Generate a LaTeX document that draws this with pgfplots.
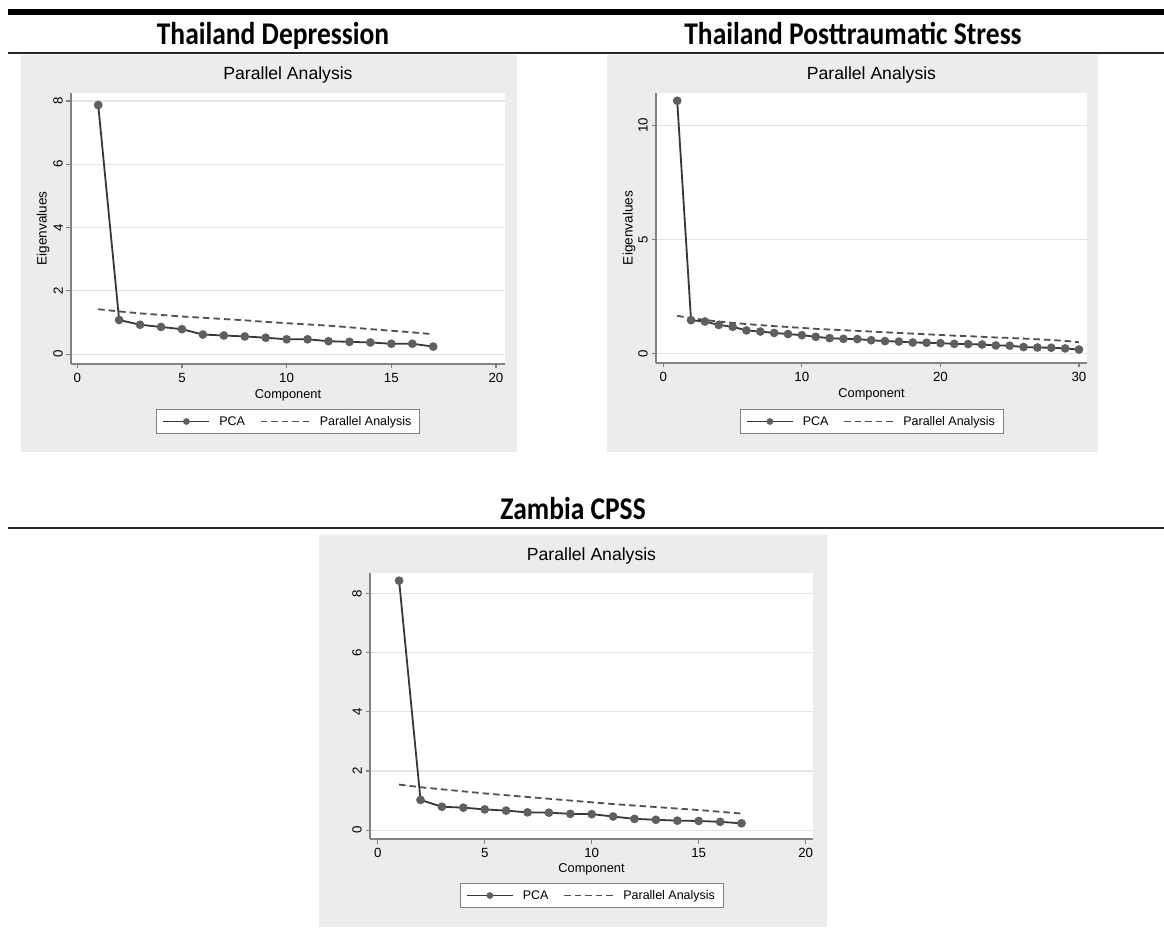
\documentclass[border=0pt]{standalone}
\usepackage{fontspec}
\setmainfont{Liberation Sans}
\newfontfamily\headfont{Carlito}
\usepackage{graphicx}
\usepackage{pgfplots}
\pgfplotsset{compat=1.18}
\usepackage{pgfplotstable}

\definecolor{panelbg}{RGB}{236,236,236}
\definecolor{axgray}{RGB}{130,130,130}
\definecolor{gridgray}{RGB}{228,228,228}
\definecolor{pcaline}{RGB}{55,55,55}
\definecolor{pcamark}{RGB}{95,95,95}
\definecolor{paline}{RGB}{80,80,80}

\pgfplotstableread{
x y
1 7.87
2 1.08
3 0.93
4 0.86
5 0.79
6 0.62
7 0.59
8 0.56
9 0.52
10 0.47
11 0.47
12 0.41
13 0.39
14 0.37
15 0.33
16 0.33
17 0.24
}\depPCA
\pgfplotstableread{
x y
1 1.42
2 1.35
3 1.29
4 1.24
5 1.19
6 1.15
7 1.11
8 1.07
9 1.02
10 0.98
11 0.94
12 0.90
13 0.85
14 0.79
15 0.74
16 0.69
17 0.63
}\depPA
\pgfplotstableread{
x y
1 11.09
2 1.46
3 1.40
4 1.25
5 1.17
6 1.01
7 0.96
8 0.90
9 0.85
10 0.80
11 0.73
12 0.67
13 0.64
14 0.63
15 0.58
16 0.54
17 0.52
18 0.48
19 0.47
20 0.45
21 0.42
22 0.41
23 0.39
24 0.35
25 0.34
26 0.28
27 0.26
28 0.25
29 0.22
30 0.17
}\ptsdPCA
\pgfplotstableread{
x y
1 1.65
2 1.55
3 1.47
4 1.40
5 1.34
6 1.29
7 1.24
8 1.20
9 1.16
10 1.12
11 1.08
12 1.05
13 1.02
14 0.99
15 0.96
16 0.93
17 0.90
18 0.87
19 0.84
20 0.81
21 0.78
22 0.76
23 0.73
24 0.70
25 0.68
26 0.65
27 0.62
28 0.59
29 0.55
30 0.49
}\ptsdPA
\pgfplotstableread{
x y
1 8.43
2 1.02
3 0.79
4 0.76
5 0.70
6 0.66
7 0.60
8 0.59
9 0.55
10 0.54
11 0.46
12 0.38
13 0.35
14 0.32
15 0.31
16 0.28
17 0.23
}\zamPCA
\pgfplotstableread{
x y
1 1.54
2 1.45
3 1.38
4 1.31
5 1.24
6 1.18
7 1.12
8 1.06
9 1.00
10 0.94
11 0.88
12 0.83
13 0.78
14 0.73
15 0.68
16 0.62
17 0.56
}\zamPA

\pgfplotsset{
  stata/.style={
    scale only axis,
    axis x line*=bottom, axis y line*=left,
    axis line style={draw=axgray, line width=1.2pt, -},
    axis background/.style={fill=white},
    tick align=outside, tick pos=left,
    major tick length=4.5pt,
    every tick/.style={draw=axgray, line width=1.2pt},
    ymajorgrids, grid style={draw=gridgray, line width=1.2pt},
    /pgf/number format/assume math mode=true,
    ticklabel style={font=\fontsize{13.3}{13.3}\selectfont},
    yticklabel style={rotate=90, anchor=south, inner sep=3.5pt},
    xticklabel style={inner sep=5pt},
    xlabel={Component},
    xlabel style={font=\fontsize{12.8}{12.8}\selectfont, anchor=base, inner sep=0pt},
    ylabel style={font=\fontsize{13.6}{13.6}\selectfont, rotate=0, anchor=base, inner sep=0pt},
    title={Parallel Analysis},
    title style={font=\fontsize{17.6}{17.6}\selectfont, anchor=base, inner sep=0pt},
    legend columns=2,
    legend style={draw=axgray, line width=1pt, fill=white, anchor=center,
      font=\fontsize{12.5}{12.5}\selectfont, inner xsep=6pt, inner ysep=4.5pt,
      /tikz/every odd column/.append style={column sep=7pt},
      /tikz/every even column/.append style={column sep=13pt}},
    clip=false,
  },
  pcastyle/.style={color=pcaline, line width=1.8pt, mark=*, mark size=3.4pt,
    mark options={fill=pcamark, draw=pcamark, solid},
    legend image code/.code={\draw[mark repeat=2, mark phase=2, ##1, mark size=2.4pt]
      plot coordinates {(0pt,0pt) (23pt,0pt) (46pt,0pt)};}},
  pastyle/.style={color=paline, line width=1.8pt, dash pattern=on 6.5pt off 4pt, mark=none,
    legend image code/.code={\draw[##1] (0pt,0pt) -- (49pt,0pt);}},
}

\begin{document}
\begin{tikzpicture}[x=1pt,y=1pt]
\useasboundingbox (0,0) rectangle (1164,929);
% header rules
\draw[line width=5.5pt, black] (8,917) -- (1164,917);
\draw[line width=1.8pt, black!85] (8,876.3) -- (1164,876.3);
\draw[line width=2pt, black!85] (8,400.7) -- (1164,400.7);
% headers
\node[anchor=base, inner sep=0pt] at (273,884) {\headfont\bfseries\fontsize{27.5}{27.5}\selectfont\scalebox{1}[1.15]{Thailand Depression}};
\node[anchor=base, inner sep=0pt] at (853,884) {\headfont\bfseries\fontsize{27.5}{27.5}\selectfont\scalebox{1}[1.15]{Thailand Posttraumatic Stress}};
\node[anchor=base, inner sep=0pt] at (573,409.7) {\headfont\bfseries\fontsize{27.5}{27.5}\selectfont\scalebox{1}[1.15]{Zambia CPSS}};
% panel backgrounds
\fill[panelbg] (21,477) rectangle (517,874);
\fill[panelbg] (607,477) rectangle (1098,874);
\fill[panelbg] (319,2) rectangle (827,394);

% Panel 1
\begin{axis}[stata, at={(71pt,565pt)}, anchor=south west, width=434pt, height=271pt,
  xmin=-0.3, xmax=20.43, ymin=-0.31, ymax=8.25,
  xtick={0,5,10,15,20}, ytick={0,2,4,6,8},
  ylabel={Eigenvalues},
  xlabel style={at={(axis description cs:0.5,-0.1255)}},
  ylabel style={at={(axis description cs:-0.056,0.5)}},
  title style={at={(axis description cs:0.5,1.0258)}},
  legend style={at={(axis description cs:0.5,-0.2122)}},
]
\addplot[pcastyle] table[x=x,y=y] {\depPCA};
\addlegendentry{PCA}
\addplot[pastyle] table[x=x,y=y] {\depPA};
\addlegendentry{Parallel Analysis}
\end{axis}

% Panel 2
\begin{axis}[stata, at={(656pt,566pt)}, anchor=south west, width=431pt, height=270pt,
  xmin=-0.53, xmax=30.58, ymin=-0.42, ymax=11.43,
  xtick={0,10,20,30}, ytick={0,5,10},
  ylabel={Eigenvalues},
  xlabel style={at={(axis description cs:0.5,-0.126)}},
  ylabel style={at={(axis description cs:-0.054,0.5)}},
  title style={at={(axis description cs:0.5,1.026)}},
  legend style={at={(axis description cs:0.5,-0.2167)}},
]
\addplot[pcastyle] table[x=x,y=y] {\ptsdPCA};
\addlegendentry{PCA}
\addplot[pastyle] table[x=x,y=y] {\ptsdPA};
\addlegendentry{Parallel Analysis}
\end{axis}

% Panel 3
\begin{axis}[stata, at={(370pt,90pt)}, anchor=south west, width=443pt, height=266pt,
  xmin=-0.36, xmax=20.34, ymin=-0.30, ymax=8.69,
  xtick={0,5,10,15,20}, ytick={0,2,4,6,8},
  xlabel style={at={(axis description cs:0.5,-0.1267)}},
  title style={at={(axis description cs:0.5,1.0263)}},
  legend style={at={(axis description cs:0.5,-0.2124)}},
]
\addplot[pcastyle] table[x=x,y=y] {\zamPCA};
\addlegendentry{PCA}
\addplot[pastyle] table[x=x,y=y] {\zamPA};
\addlegendentry{Parallel Analysis}
\end{axis}
\end{tikzpicture}
\end{document}
